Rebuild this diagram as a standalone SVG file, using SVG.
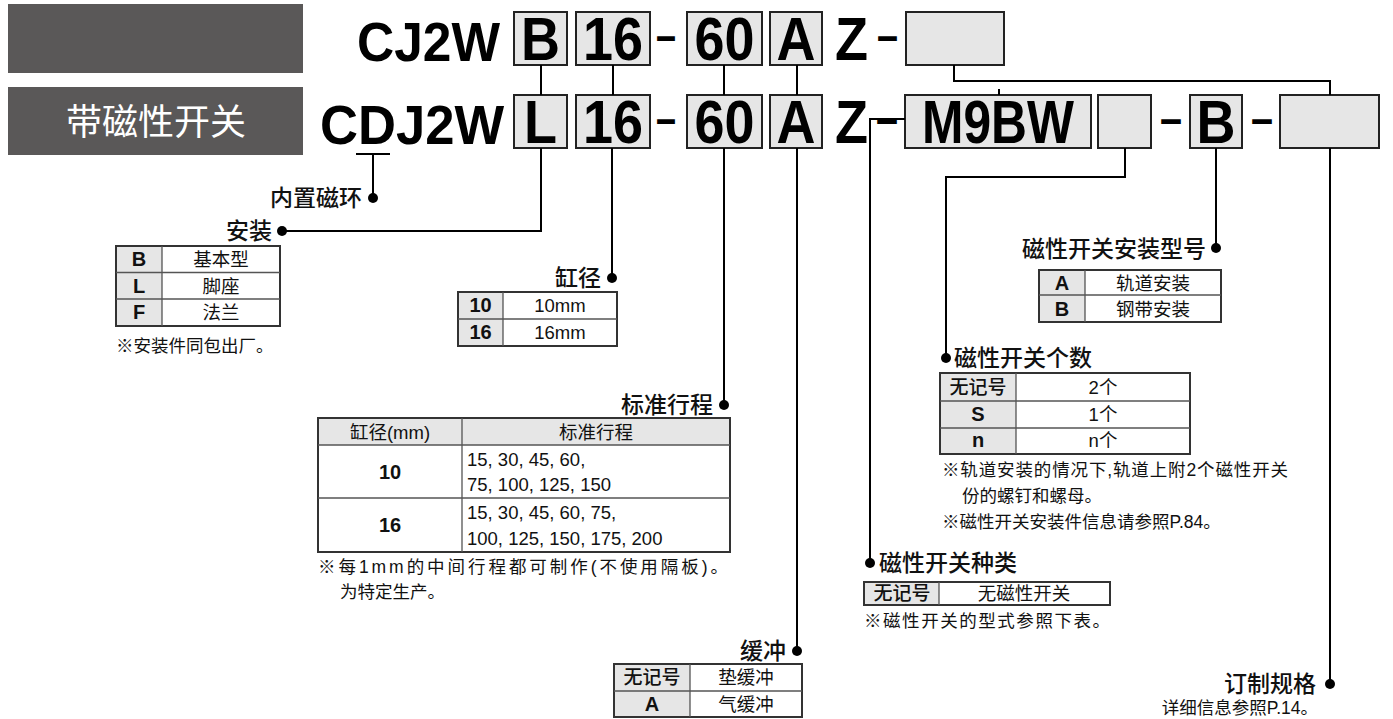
<svg xmlns="http://www.w3.org/2000/svg" width="1393" height="719" viewBox="0 0 1393 719">
<style>
.code{font-family:"Liberation Sans",Arial,sans-serif;font-weight:bold;font-size:61px;fill:#000}
.pre{font-family:"Liberation Sans",Arial,sans-serif;font-weight:bold;font-size:55px;fill:#000}
.dash{font-family:"Liberation Sans",Arial,sans-serif;font-weight:bold;font-size:48px;fill:#000}
.cbox{fill:#e6e6e6;stroke:#222;stroke-width:2}
.lbl{font-family:"Noto Sans CJK SC","Liberation Sans",sans-serif;font-weight:500;font-size:23px;fill:#111}
.note{font-family:"Liberation Sans","Noto Sans CJK SC",sans-serif;font-size:17.5px;fill:#111}
.td{font-family:"Liberation Sans","Noto Sans CJK SC",sans-serif;font-size:18.5px;fill:#111}
.tk{font-family:"Liberation Sans","Noto Sans CJK SC",sans-serif;font-weight:bold;font-size:20px;fill:#111}
.tkc{font-family:"Noto Sans CJK SC",sans-serif;font-weight:500;font-size:19px;fill:#111}
.outer{fill:#fff;stroke:#333;stroke-width:2}
.key{fill:#e6e6e6}
.in{stroke:#555;stroke-width:1.3;fill:none}
.con{stroke:#000;stroke-width:2;fill:none}
.dot{fill:#000}
</style>

<g id="title-boxes">
<rect x="8" y="4" width="295" height="69" fill="#5a5858"/>
<rect x="8" y="87" width="295" height="68" fill="#5a5858"/>
<text x="156" y="135" text-anchor="middle" font-family="Noto Sans CJK SC,sans-serif" font-size="36" fill="#fff">带磁性开关</text>
</g>

<g id="row1">
<text class="pre" x="357" y="61" textLength="143" lengthAdjust="spacingAndGlyphs">CJ2W</text>
<rect class="cbox" x="514" y="12" width="53" height="53"/>
<text class="code" x="540.5" y="60" text-anchor="middle" textLength="39" lengthAdjust="spacingAndGlyphs">B</text>
<rect class="cbox" x="576" y="12" width="74" height="53"/>
<text class="code" x="613" y="60" text-anchor="middle" textLength="60" lengthAdjust="spacingAndGlyphs">16</text>
<text class="dash" x="656" y="52" textLength="20" lengthAdjust="spacingAndGlyphs">–</text>
<rect class="cbox" x="687" y="12" width="75" height="53"/>
<text class="code" x="724.5" y="60" text-anchor="middle" textLength="60" lengthAdjust="spacingAndGlyphs">60</text>
<rect class="cbox" x="770" y="12" width="52" height="53"/>
<text class="code" x="796" y="60" text-anchor="middle" textLength="39" lengthAdjust="spacingAndGlyphs">A</text>
<text class="code" x="835" y="60" textLength="33" lengthAdjust="spacingAndGlyphs">Z</text>
<text class="dash" x="877" y="52" textLength="21" lengthAdjust="spacingAndGlyphs">–</text>
<rect class="cbox" x="906" y="12" width="98" height="53"/>
</g>

<g id="row2">
<text class="pre" x="320" y="144" textLength="184" lengthAdjust="spacingAndGlyphs">CDJ2W</text>
<rect class="cbox" x="514" y="95" width="53" height="53"/>
<text class="code" x="540.5" y="143" text-anchor="middle" textLength="33" lengthAdjust="spacingAndGlyphs">L</text>
<rect class="cbox" x="576" y="95" width="74" height="53"/>
<text class="code" x="613" y="143" text-anchor="middle" textLength="60" lengthAdjust="spacingAndGlyphs">16</text>
<text class="dash" x="656" y="135" textLength="20" lengthAdjust="spacingAndGlyphs">–</text>
<rect class="cbox" x="687" y="95" width="75" height="53"/>
<text class="code" x="724.5" y="143" text-anchor="middle" textLength="60" lengthAdjust="spacingAndGlyphs">60</text>
<rect class="cbox" x="770" y="95" width="52" height="53"/>
<text class="code" x="796" y="143" text-anchor="middle" textLength="39" lengthAdjust="spacingAndGlyphs">A</text>
<text class="code" x="835" y="143" textLength="33" lengthAdjust="spacingAndGlyphs">Z</text>
<text class="dash" x="876" y="135" textLength="22" lengthAdjust="spacingAndGlyphs">–</text>
<rect class="cbox" x="905" y="95" width="186" height="53"/>
<text class="code" x="998" y="143" text-anchor="middle" textLength="152" lengthAdjust="spacingAndGlyphs">M9BW</text>
<rect class="cbox" x="1098" y="95" width="53" height="53"/>
<text class="dash" x="1160" y="135" textLength="22" lengthAdjust="spacingAndGlyphs">–</text>
<rect class="cbox" x="1190" y="95" width="52" height="53"/>
<text class="code" x="1216" y="143" text-anchor="middle" textLength="39" lengthAdjust="spacingAndGlyphs">B</text>
<text class="dash" x="1251" y="135" textLength="22" lengthAdjust="spacingAndGlyphs">–</text>
<rect class="cbox" x="1280" y="95" width="99" height="53"/>
</g>

<g id="connectors">
<path class="con" d="M541 65V95M613 65V95M724 65V95M797 65V95"/>
<path class="con" d="M954 65V81H1330V95"/>
<path class="con" d="M999 89V95"/>
<path class="con" d="M356 154H390M373 154V198"/>
<path class="con" d="M541 148V231H282"/>
<path class="con" d="M612 148V278"/>
<path class="con" d="M724 148V405"/>
<path class="con" d="M797 148V651"/>
<path class="con" d="M905 119H870V563"/>
<path class="con" d="M1125 148V177H946V358"/>
<path class="con" d="M1216 148V248"/>
<path class="con" d="M1330 148V684"/>
<circle class="dot" cx="373" cy="198" r="5"/>
<circle class="dot" cx="282" cy="231" r="5"/>
<circle class="dot" cx="612" cy="278" r="5"/>
<circle class="dot" cx="724" cy="405" r="5"/>
<circle class="dot" cx="797" cy="651" r="5"/>
<circle class="dot" cx="870" cy="563" r="5"/>
<circle class="dot" cx="946" cy="358" r="5"/>
<circle class="dot" cx="1216" cy="248" r="5"/>
<circle class="dot" cx="1330" cy="684" r="5"/>
</g>

<g id="magnet">
<text class="lbl" x="362" y="206" text-anchor="end">内置磁环</text>
</g>

<g id="mount">
<text class="lbl" x="272" y="239" text-anchor="end">安装</text>
<rect class="outer" x="116" y="246" width="164" height="80"/>
<rect class="key" x="117" y="247" width="45" height="78"/>
<path class="in" d="M162 246V326M116 272.5H280M116 299H280"/>
<text class="tk" x="139" y="266" text-anchor="middle">B</text>
<text class="tk" x="139" y="293" text-anchor="middle">L</text>
<text class="tk" x="139" y="319" text-anchor="middle">F</text>
<text class="td" x="221" y="266" text-anchor="middle">基本型</text>
<text class="td" x="221" y="293" text-anchor="middle">脚座</text>
<text class="td" x="221" y="319" text-anchor="middle">法兰</text>
<text class="note" x="116" y="352">※安装件同包出厂。</text>
</g>

<g id="bore">
<text class="lbl" x="601" y="286" text-anchor="end">缸径</text>
<rect class="outer" x="458" y="292" width="159" height="54"/>
<rect class="key" x="459" y="293" width="44" height="52"/>
<path class="in" d="M503 292V346M458 319H617"/>
<text class="tk" x="480.5" y="312" text-anchor="middle">10</text>
<text class="tk" x="480.5" y="339" text-anchor="middle">16</text>
<text class="td" x="560" y="312" text-anchor="middle">10mm</text>
<text class="td" x="560" y="339" text-anchor="middle">16mm</text>
</g>

<g id="stroke">
<text class="lbl" x="713" y="413" text-anchor="end">标准行程</text>
<rect class="outer" x="318" y="418" width="412" height="134"/>
<rect class="key" x="319" y="419" width="410" height="26"/>
<path class="in" d="M462 418V552M318 445H730M318 498H730"/>
<text class="td" x="390" y="439" text-anchor="middle" font-size="19">缸径(mm)</text>
<text class="td" x="596" y="439" text-anchor="middle" font-size="19">标准行程</text>
<text class="tk" x="390" y="479" text-anchor="middle">10</text>
<text class="tk" x="390" y="532" text-anchor="middle">16</text>
<text class="td" x="467" y="466" font-size="19.5">15, 30, 45, 60,</text>
<text class="td" x="467" y="491" font-size="19.5">75, 100, 125, 150</text>
<text class="td" x="467" y="519" font-size="19.5">15, 30, 45, 60, 75,</text>
<text class="td" x="467" y="545" font-size="19.5">100, 125, 150, 175, 200</text>
<text class="note" x="318" y="573" font-size="19.5" textLength="410" lengthAdjust="spacing">※每1mm的中间行程都可制作(不使用隔板)。</text>
<text class="note" x="340" y="598" font-size="19.5">为特定生产。</text>
</g>

<g id="cushion">
<text class="lbl" x="786" y="659" text-anchor="end">缓冲</text>
<rect class="outer" x="614" y="664" width="188" height="53"/>
<rect class="key" x="615" y="665" width="75" height="51"/>
<path class="in" d="M690 664V717M614 691H802"/>
<text class="tkc" x="652" y="684" text-anchor="middle">无记号</text>
<text class="tk" x="652" y="711" text-anchor="middle">A</text>
<text class="td" x="746" y="684" text-anchor="middle">垫缓冲</text>
<text class="td" x="746" y="711" text-anchor="middle">气缓冲</text>
</g>

<g id="switch-mount">
<text class="lbl" x="1206" y="257" text-anchor="end">磁性开关安装型号</text>
<rect class="outer" x="1039" y="270" width="182" height="52"/>
<rect class="key" x="1040" y="271" width="45" height="50"/>
<path class="in" d="M1085 270V322M1039 295H1221"/>
<text class="tk" x="1062" y="290" text-anchor="middle">A</text>
<text class="tk" x="1062" y="316" text-anchor="middle">B</text>
<text class="td" x="1153" y="290" text-anchor="middle">轨道安装</text>
<text class="td" x="1153" y="316" text-anchor="middle">钢带安装</text>
</g>

<g id="switch-count">
<text class="lbl" x="954" y="366">磁性开关个数</text>
<rect class="outer" x="940" y="373" width="250" height="81"/>
<rect class="key" x="941" y="374" width="75" height="79"/>
<path class="in" d="M1016 373V454M940 401H1190M940 428H1190"/>
<text class="tkc" x="978" y="394" text-anchor="middle">无记号</text>
<text class="tk" x="978" y="421" text-anchor="middle">S</text>
<text class="tk" x="978" y="447" text-anchor="middle">n</text>
<text class="td" x="1103" y="394" text-anchor="middle">2个</text>
<text class="td" x="1103" y="421" text-anchor="middle">1个</text>
<text class="td" x="1103" y="447" text-anchor="middle">n个</text>
<text class="note" x="942" y="476" textLength="346" lengthAdjust="spacing">※轨道安装的情况下,轨道上附2个磁性开关</text>
<text class="note" x="962" y="502">份的螺钉和螺母。</text>
<text class="note" x="942" y="528">※磁性开关安装件信息请参照P.84。</text>
</g>

<g id="switch-type">
<text class="lbl" x="879" y="571">磁性开关种类</text>
<rect class="outer" x="864" y="582" width="246" height="23"/>
<rect class="key" x="865" y="583" width="74" height="21"/>
<path class="in" d="M939 582V605"/>
<text class="tkc" x="902" y="600" text-anchor="middle">无记号</text>
<text class="td" x="1024" y="600" text-anchor="middle">无磁性开关</text>
<text class="note" x="864" y="627" font-size="18" textLength="246" lengthAdjust="spacing">※磁性开关的型式参照下表。</text>
</g>

<g id="custom">
<text class="lbl" x="1316" y="692" text-anchor="end">订制规格</text>
<text class="note" x="1318" y="714" text-anchor="end" font-size="15">详细信息参照P.14。</text>
</g>
</svg>
